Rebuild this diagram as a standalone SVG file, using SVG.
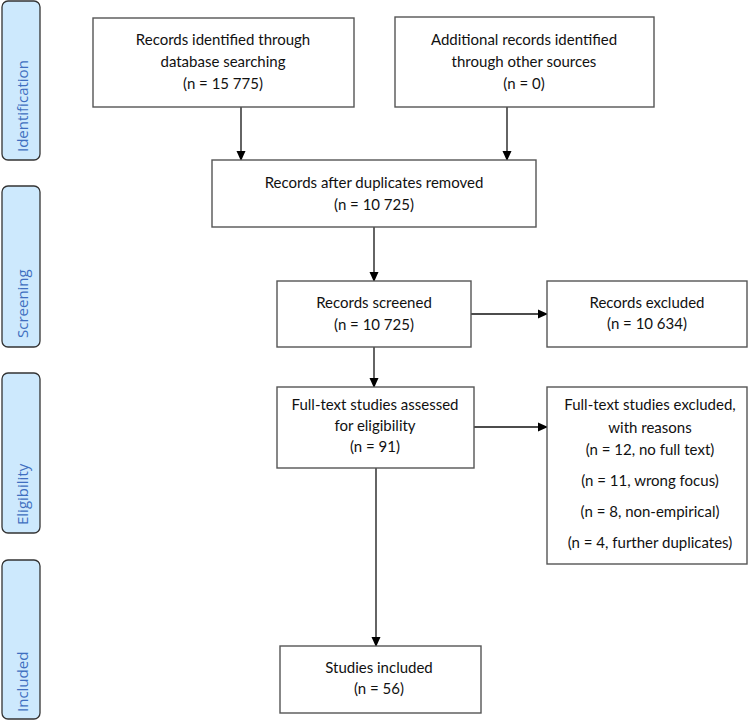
<svg xmlns="http://www.w3.org/2000/svg" width="748" height="721" viewBox="0 0 748 721">
<defs>
<marker id="ah" markerWidth="10" markerHeight="10" refX="9" refY="5" orient="auto" markerUnits="userSpaceOnUse">
<path d="M0,0.5 L10,5 L0,9.5 Z" fill="#000"/>
</marker>
<style>
.box{fill:#fff;stroke:#555;stroke-width:1.4}
.phase{fill:#cde9fd;stroke:#333;stroke-width:1.3}
.t{font-family:Lato,"Open Sans","Liberation Sans",sans-serif;font-size:15px;fill:#111;text-anchor:middle}
.pt{font-family:"Open Sans","Liberation Sans",sans-serif;font-size:15px;fill:#3f6fc0;text-anchor:start}
.c{stroke:#111;stroke-width:1.3;fill:none;marker-end:url(#ah)}
</style>
</defs>
<rect width="748" height="721" fill="#fff"/>
<g id="phase-identification"><rect class="phase" x="2" y="1" width="38" height="159" rx="6"/><text class="pt" transform="translate(28,152) rotate(-90)">Identification</text></g>
<g id="phase-screening"><rect class="phase" x="2" y="186" width="38" height="161" rx="6"/><text class="pt" transform="translate(28,338) rotate(-90)">Screening</text></g>
<g id="phase-eligibility"><rect class="phase" x="2" y="373" width="38" height="160" rx="6"/><text class="pt" transform="translate(28,525) rotate(-90)">Eligibility</text></g>
<g id="phase-included"><rect class="phase" x="2" y="560" width="38" height="159" rx="6"/><text class="pt" transform="translate(28,712) rotate(-90)">Included</text></g>

<g id="connectors">
<line class="c" x1="241" y1="107" x2="241" y2="160"/>
<line class="c" x1="507" y1="107" x2="507" y2="160"/>
<line class="c" x1="374" y1="227" x2="374" y2="281"/>
<line class="c" x1="471" y1="314" x2="547" y2="314"/>
<line class="c" x1="374" y1="347" x2="374" y2="387"/>
<line class="c" x1="474" y1="427" x2="547" y2="427"/>
<line class="c" x1="376" y1="468" x2="376" y2="646"/>
</g>

<g id="n1"><rect class="box" x="93" y="18" width="261" height="89"/>
<text class="t" x="223" y="45">Records identified through</text>
<text class="t" x="223" y="67">database searching</text>
<text class="t" x="223" y="89">(n = 15 775)</text></g>
<g id="n2"><rect class="box" x="395" y="17" width="259" height="90"/>
<text class="t" x="524" y="45">Additional records identified</text>
<text class="t" x="524" y="67">through other sources</text>
<text class="t" x="524" y="89">(n = 0)</text></g>
<g id="n3"><rect class="box" x="212" y="160" width="324" height="67"/>
<text class="t" x="374" y="188">Records after duplicates removed</text>
<text class="t" x="374" y="210">(n = 10 725)</text></g>
<g id="n4"><rect class="box" x="277" y="281" width="194" height="66"/>
<text class="t" x="374" y="308">Records screened</text>
<text class="t" x="374" y="330">(n = 10 725)</text></g>
<g id="n5"><rect class="box" x="547" y="281" width="200" height="66"/>
<text class="t" x="647" y="308">Records excluded</text>
<text class="t" x="647" y="329">(n = 10 634)</text></g>
<g id="n6"><rect class="box" x="277" y="387" width="197" height="81"/>
<text class="t" x="375" y="410">Full-text studies assessed</text>
<text class="t" x="375" y="431">for eligibility</text>
<text class="t" x="375" y="452">(n = 91)</text></g>
<g id="n7"><rect class="box" x="547" y="387" width="200" height="177"/>
<text class="t" x="650" y="410">Full-text studies excluded,</text>
<text class="t" x="650" y="433">with reasons</text>
<text class="t" x="650" y="455">(n = 12, no full text)</text>
<text class="t" x="650" y="486">(n = 11, wrong focus)</text>
<text class="t" x="650" y="517">(n = 8, non-empirical)</text>
<text class="t" x="650" y="548">(n = 4, further duplicates)</text></g>
<g id="n8"><rect class="box" x="280" y="646" width="201" height="67"/>
<text class="t" x="379" y="673">Studies included</text>
<text class="t" x="379" y="694">(n = 56)</text></g>
</svg>
